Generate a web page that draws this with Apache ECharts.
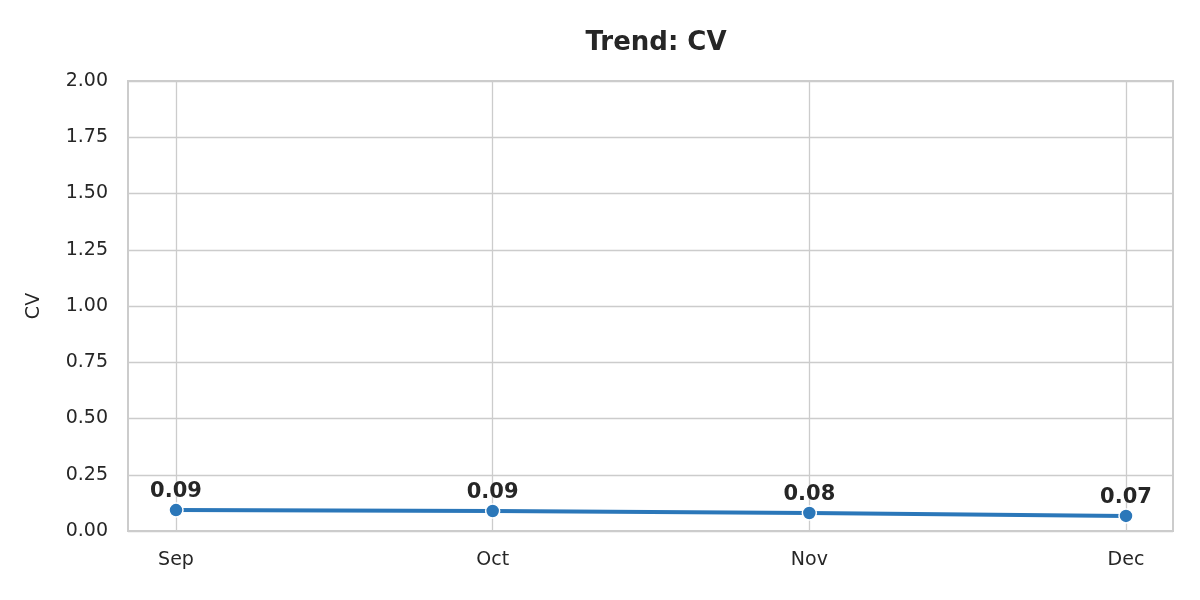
<!DOCTYPE html><html><head><meta charset="utf-8">
<script src="https://cdn.jsdelivr.net/npm/echarts@6/dist/echarts.min.js"></script>
<style>html,body{margin:0;background:#fff}#c{width:1200px;height:600px}</style></head><body><div id="c"></div>
<script>
const categories=['Sep','Oct','Nov','Dec'];
const cvValues=[0.093,0.089,0.080,0.067];
const yTicks=[0,0.25,0.5,0.75,1,1.25,1.5,1.75,2];
const ff='DejaVu Sans';
const chart=echarts.init(document.getElementById('c'));
chart.setOption({
 backgroundColor:'#fff',
 title:{text:'Trend: CV',left:651,textAlign:'center',top:25,textStyle:{fontFamily:ff,fontSize:26,fontWeight:'bold',color:'#262626'}},
 grid:[{left:128,right:27,top:81,bottom:69,show:true,borderColor:'#cccccc',borderWidth:2,backgroundColor:'transparent'},
       {left:176,right:74,top:81,bottom:69}],
 xAxis:[{gridIndex:0,type:'value',min:0,max:1,show:false},
  {gridIndex:1,type:'category',data:categories,boundaryGap:false,axisLine:{show:false},axisTick:{show:false},
   axisLabel:{fontFamily:ff,fontSize:19,color:'#262626',margin:20},
   splitLine:{show:true,lineStyle:{color:'#cccccc',width:1.3}}}],
 yAxis:[{gridIndex:0,type:'value',min:0,max:2,interval:0.25,name:'CV',nameLocation:'middle',nameGap:84,
   nameTextStyle:{fontFamily:ff,fontSize:19,color:'#262626'},axisLine:{show:false},axisTick:{show:false},
   axisLabel:{fontFamily:ff,fontSize:19,color:'#262626',margin:20,formatter:v=>v.toFixed(2)},
   splitLine:{lineStyle:{color:'#cccccc',width:1.3}}},
  {gridIndex:1,type:'value',min:0,max:2,show:false}],
 series:[{type:'line',xAxisIndex:1,yAxisIndex:1,data:cvValues,symbol:'circle',symbolSize:14,
  lineStyle:{color:'#2b77b9',width:4},itemStyle:{color:'#2b77b9',borderColor:'#fff',borderWidth:1.5},
  label:{show:true,position:'top',distance:0,fontFamily:ff,fontSize:21,fontWeight:'bold',color:'#262626',formatter:p=>p.value.toFixed(2)}}]
});
</script></body></html>
